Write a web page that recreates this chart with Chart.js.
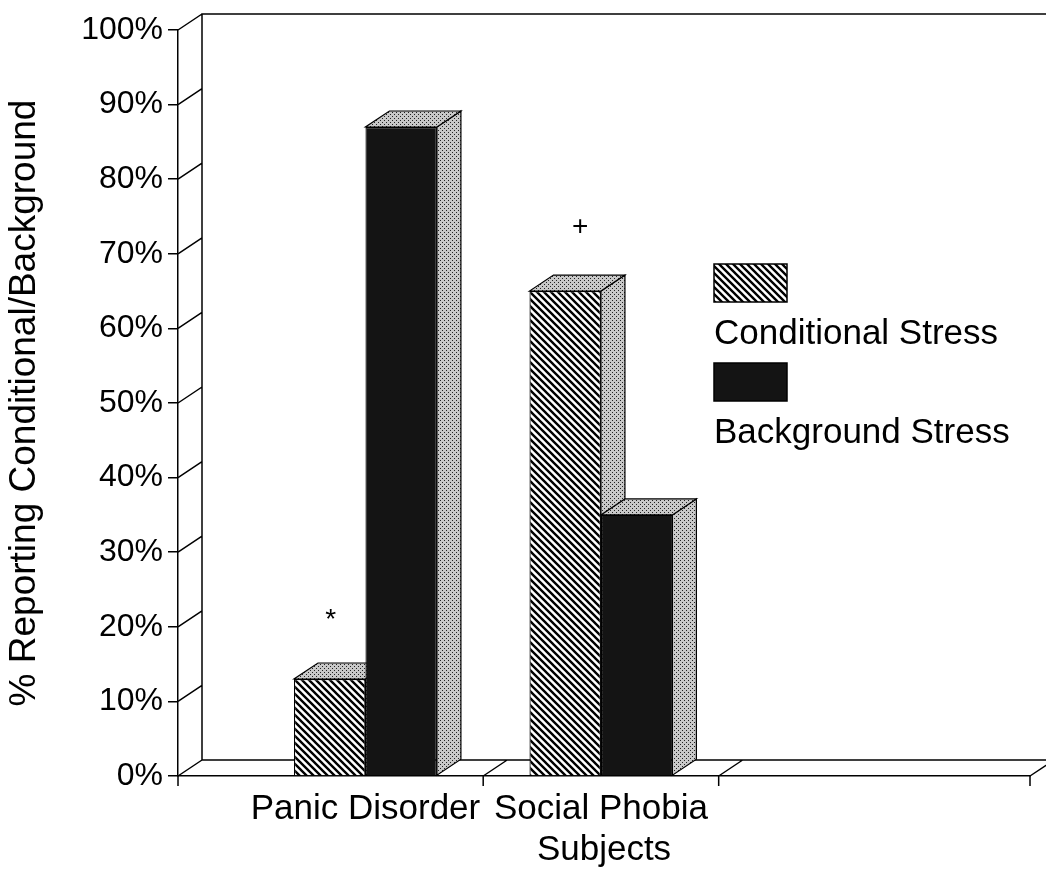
<!DOCTYPE html>
<html>
<head>
<meta charset="utf-8">
<script src="https://cdn.jsdelivr.net/npm/chart.js@4.4.0/dist/chart.umd.min.js"></script>
<style>
  html, body { margin: 0; padding: 0; background: #fff; }
</style>
</head>
<body>
<canvas id="myChart" width="1046" height="874"></canvas>
<script>
// data
const categories = ['Panic Disorder', 'Social Phobia'];
const seriesNames = ['Conditional Stress', 'Background Stress'];
const conditionalVals = [13, 65];
const backgroundVals = [87, 35];
const yTickStep = 10;
// significance marks over the conditional bars
const markCats = [0, 1];
const markTexts = ['*', '+'];
const markVals = [21.5, 73.5];

// depth of the fake 3d look
const DX = 24, DY = 16;
const FONT = "'Liberation Sans', Arial, Helvetica, sans-serif";

function hatchPattern() {
    let c = document.createElement('canvas');
    c.width = 7; c.height = 7;
    let g = c.getContext('2d');
    g.fillStyle = '#fff';
    g.fillRect(0, 0, 7, 7);
    g.strokeStyle = '#000';
    g.lineWidth = 2.4;
    g.beginPath();
    for (let k = -7; k <= 7; k += 7) {
        g.moveTo(k - 1, -1);
        g.lineTo(k + 8, 8);
    }
    g.stroke();
    return g.createPattern(c, 'repeat');
}

function stipplePattern() {
    let c = document.createElement('canvas');
    c.width = 4; c.height = 4;
    let g = c.getContext('2d');
    g.fillStyle = '#c8c8c8';
    g.fillRect(0, 0, 4, 4);
    g.fillStyle = '#222';
    g.fillRect(0, 0, 1, 1);
    g.fillRect(2, 2, 1, 1);
    return g.createPattern(c, 'repeat');
}

const hatch = hatchPattern();
const stipple = stipplePattern();

function poly(ctx, pts) {
    ctx.beginPath();
    ctx.moveTo(pts[0][0], pts[0][1]);
    for (let i = 1; i < pts.length; i++) ctx.lineTo(pts[i][0], pts[i][1]);
    ctx.closePath();
    ctx.fillStyle = stipple;
    ctx.fill();
    ctx.stroke();
}

const frame3d = {
    id: 'frame3d',
    beforeDatasetsDraw(chart) {
        const ctx = chart.ctx;
        const a = chart.chartArea;
        const xs = chart.scales.x, ys = chart.scales.y;
        ctx.save();
        ctx.strokeStyle = '#000';
        ctx.lineWidth = 1.5;
        ctx.beginPath();
        // back wall + floor back edge
        ctx.moveTo(chart.width, a.top - DY);
        ctx.lineTo(a.left + DX, a.top - DY);
        ctx.lineTo(a.left + DX, a.bottom - DY);
        ctx.lineTo(chart.width, a.bottom - DY);
        // y ticks run back to the wall
        for (let i = 0; i < ys.ticks.length; i++) {
            let py = ys.getPixelForTick(i);
            ctx.moveTo(a.left, py);
            ctx.lineTo(a.left + DX, py - DY);
        }
        // category boundaries on the floor
        let bounds = [a.left];
        for (let i = 0; i < categories.length; i++) bounds.push(xs.getPixelForValue(i + 1.5));
        bounds.push(a.right);
        bounds.forEach(function(px, i) {
            ctx.moveTo(px, a.bottom);
            ctx.lineTo(px, a.bottom + 10);
            if (i > 0) {
                ctx.moveTo(px, a.bottom);
                ctx.lineTo(px + DX, a.bottom - DY);
            }
        });
        ctx.stroke();

        // tops and sides of the bars
        ctx.lineWidth = 1.2;
        for (let i = 0; i < categories.length; i++) {
            for (let d = 0; d < chart.data.datasets.length; d++) {
                let el = chart.getDatasetMeta(d).data[i];
                let x0 = el.x - el.width / 2, x1 = el.x + el.width / 2;
                let top = el.y, base = el.base;
                poly(ctx, [[x1, top], [x1 + DX, top - DY], [x1 + DX, base - DY], [x1, base]]);
                poly(ctx, [[x0, top], [x1, top], [x1 + DX, top - DY], [x0 + DX, top - DY]]);
            }
        }
        ctx.restore();
    },
    afterDraw(chart) {
        const ctx = chart.ctx;
        const ys = chart.scales.y;
        ctx.save();
        // marks
        ctx.fillStyle = '#000';
        ctx.textAlign = 'center';
        ctx.textBaseline = 'middle';
        ctx.font = '28px ' + FONT;
        for (let k = 0; k < markTexts.length; k++) {
            let el = chart.getDatasetMeta(0).data[markCats[k]];
            let star = markTexts[k] === '*';
            ctx.fillText(markTexts[k], el.x + (star ? 1 : 15), ys.getPixelForValue(markVals[k]) + (star ? 5 : 0));
        }
        // legend: swatch above its label
        let fills = [hatch, '#141414'];
        let lx = 714, ly = 264;
        ctx.textAlign = 'left';
        ctx.textBaseline = 'alphabetic';
        ctx.font = '35px ' + FONT;
        ctx.lineWidth = 1.5;
        ctx.strokeStyle = '#000';
        seriesNames.forEach(function(name, i) {
            let by = ly + i * 99;
            ctx.fillStyle = fills[i];
            ctx.fillRect(lx, by, 73, 38);
            ctx.strokeRect(lx, by, 73, 38);
            ctx.fillStyle = '#000';
            ctx.fillText(name, lx, by + 80);
        });
        ctx.restore();
    }
};

const ctx = document.getElementById('myChart');
const chart = new Chart(ctx, {
    type: 'bar',
    data: {
        datasets: [{
            label: seriesNames[0],
            data: categories.map((c, i) => ({x: i + 1, y: conditionalVals[i]})),
            backgroundColor: hatch,
            borderColor: '#000',
            borderWidth: 1.2,
            barPercentage: 1,
            categoryPercentage: 0.607
        }, {
            label: seriesNames[1],
            data: categories.map((c, i) => ({x: i + 1, y: backgroundVals[i]})),
            backgroundColor: '#141414',
            borderColor: '#000',
            borderWidth: 1.2,
            barPercentage: 1,
            categoryPercentage: 0.607
        }]
    },
    options: {
        responsive: false,
        animation: false,
        devicePixelRatio: 1,
        layout: {padding: {top: 30, right: 16, left: 0, bottom: 0}},
        plugins: {
            legend: {display: false},
            tooltip: {enabled: false}
        },
        scales: {
            x: {
                type: 'linear',
                min: 0.204,
                max: 3.822,
                offset: false,
                grid: {display: false, drawTicks: false},
                border: {color: '#000', width: 1.5},
                afterBuildTicks: function(s) {
                    s.ticks = categories.map((c, i) => ({value: i + 1}));
                },
                afterFit: function(s) { s.height = 98; },
                ticks: {
                    autoSkip: false,
                    maxRotation: 0,
                    padding: 12,
                    color: '#000',
                    font: {family: FONT, size: 35},
                    callback: v => categories[v - 1] || ''
                },
                title: {
                    display: true,
                    text: 'Subjects',
                    color: '#000',
                    font: {family: FONT, size: 35},
                    padding: {top: 0, bottom: 3}
                }
            },
            y: {
                min: 0,
                max: 100,
                grid: {drawOnChartArea: false, tickLength: 10, color: '#000', lineWidth: 1.5},
                border: {color: '#000', width: 1.5},
                afterFit: function(s) { s.width = 178; },
                ticks: {
                    stepSize: yTickStep,
                    padding: 5,
                    color: '#000',
                    font: {family: FONT, size: 32},
                    callback: v => v + '%'
                },
                title: {
                    display: true,
                    text: '% Reporting Conditional/Background',
                    color: '#000',
                    font: {family: FONT, size: 37},
                    padding: {top: 3, bottom: 0}
                }
            }
        }
    },
    plugins: [frame3d]
});
</script>
</body>
</html>
